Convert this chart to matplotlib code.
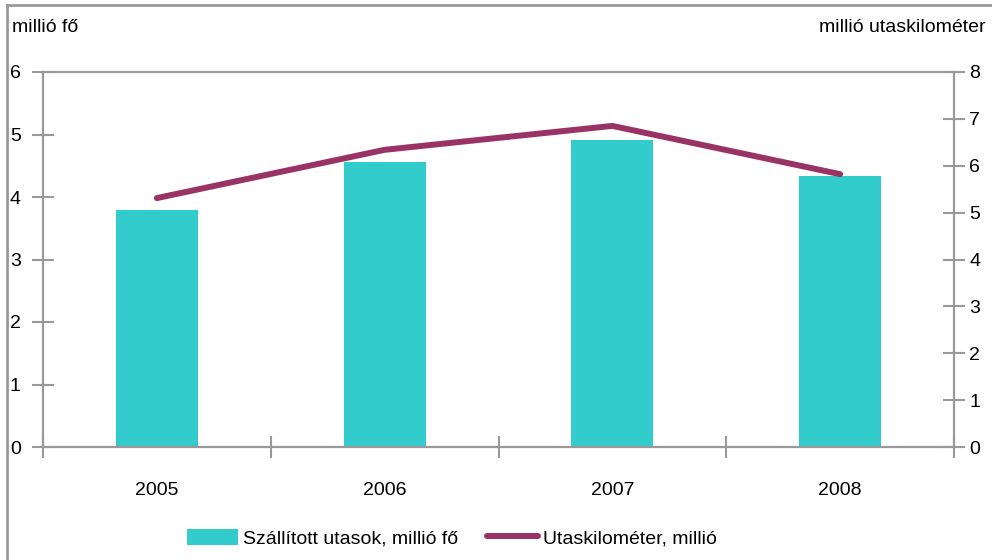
import matplotlib
matplotlib.use("Agg")
import numpy as np
import matplotlib.pyplot as plt
from matplotlib.lines import Line2D
from matplotlib.patches import Patch

plt.rcParams['font.family'] = ['Liberation Sans Narrow', 'Liberation Sans', 'DejaVu Sans']

# Data
years = ['2005', '2006', '2007', '2008']
passengers = [3.79, 4.56, 4.91, 4.34]      # millió fő (left axis)
passenger_km = [5.31, 6.34, 6.85, 5.82]    # millió utaskilométer (right axis)

bar_color = '#33CCCC'
line_color = '#993366'
axis_gray = '#999999'
fs = 14

fig = plt.figure(figsize=(9.92, 5.6), dpi=100)
ax = fig.add_axes([43/992, 1 - 447/560, (954 - 43)/992, (447 - 72)/560])
ax2 = ax.twinx()

x = np.arange(len(years))
ax.bar(x, passengers, width=0.36, color=bar_color, zorder=2)
ax2.plot(x, passenger_km, color=line_color, linewidth=4.3, solid_capstyle='round',
         solid_joinstyle='round', zorder=3)

ax.set_xlim(-0.5, len(years) - 0.5)
ax.set_ylim(0, 6)
ax2.set_ylim(0, 8)
ax.set_yticks(range(0, 7))
ax2.set_yticks(range(0, 9))

# category boundaries as major ticks, labels at centres
ax.set_xticks(np.arange(-0.5, len(years), 1.0))
ax.set_xticklabels([])
ax.set_xticks(x, minor=True)
ax.set_xticklabels(years, minor=True, fontsize=fs)
ax.tick_params(axis='x', which='minor', length=0, pad=25)
ax.tick_params(axis='x', which='major', direction='inout', length=16, width=1.5, color=axis_gray)

ax.tick_params(axis='y', direction='inout', length=16, width=1.5, color=axis_gray,
               labelsize=fs, pad=8)
ax2.tick_params(axis='y', direction='inout', length=16, width=1.5, color=axis_gray,
                labelsize=fs, pad=3)

for a in (ax, ax2):
    for s in a.spines.values():
        s.set_color(axis_gray)
        s.set_linewidth(1.5)

ax.set_zorder(ax2.get_zorder() - 1)
ax2.patch.set_visible(False)

fig.text(12/992, 1 - 28/560, 'millió fő', fontsize=fs, ha='left', va='center')
fig.text(986/992, 1 - 28/560, 'millió utaskilométer', fontsize=fs, ha='right', va='center')

handles = [Patch(facecolor=bar_color, edgecolor='none'),
           Line2D([0], [0], color=line_color, linewidth=4.3, solid_capstyle='round')]
fig.legend(handles, ['Szállított utasok, millió fő', 'Utaskilométer, millió'],
           loc='center', bbox_to_anchor=(452/992, 1 - 538/560), ncol=2, frameon=False,
           fontsize=fs, handlelength=2.6, handleheight=0.9, handletextpad=0.25,
           columnspacing=1.5)

# outer frame (left and top edges visible)
fig.add_artist(Line2D([7/992, 7/992], [0, 1 - 5/560], color=axis_gray, linewidth=2,
                      transform=fig.transFigure))
fig.add_artist(Line2D([7/992, 1], [1 - 5/560, 1 - 5/560], color=axis_gray, linewidth=2,
                      transform=fig.transFigure))

fig.savefig('out.png', dpi=100)
